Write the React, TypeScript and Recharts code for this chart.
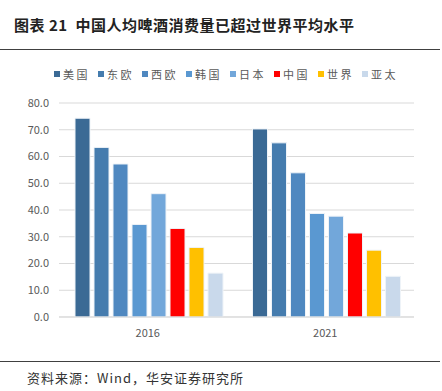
import React from "react";
import { BarChart, Bar, XAxis, YAxis, CartesianGrid } from "recharts";

const years = ["2016", "2021"];
const regions = ["美国", "东欧", "西欧", "韩国", "日本", "中国", "世界", "亚太"];
const colors = ["#3B6A95", "#457CAE", "#4F88C0", "#5A98D1", "#72A7DA", "#FF0000", "#FFC000", "#C9D9EB"];
const values2016 = [74.3, 63.4, 57.2, 34.6, 46.1, 33.1, 26.0, 16.4];
const values2021 = [70.3, 65.1, 53.9, 38.7, 37.7, 31.4, 25.0, 15.2];
const yTicks = [0, 10, 20, 30, 40, 50, 60, 70, 80];

const data = years.map((year, i) => {
  const row: Record<string, string | number> = { year };
  const vals = i === 0 ? values2016 : values2021;
  regions.forEach((r, j) => {
    row[r] = vals[j];
  });
  return row;
});

const font = '"Noto Sans CJK SC", "Noto Sans", sans-serif';

export default function App() {
  return (
    <div
      style={{
        position: "absolute",
        left: 0,
        top: 0,
        width: 442,
        height: 391,
        background: "#fff",
        fontFamily: font,
      }}
    >
      <div
        style={{
          position: "absolute",
          left: 14,
          top: 14,
          fontSize: 15,
          fontWeight: 700,
          letterSpacing: 0.5,
          color: "#222",
          whiteSpace: "nowrap",
        }}
      >
        图表 21&nbsp;&nbsp;中国人均啤酒消费量已超过世界平均水平
      </div>
      <div style={{ position: "absolute", left: 0, top: 49, width: 440, height: 1, background: "#404040" }} />

      {regions.map((r, i) => (
        <div
          key={r}
          style={{
            position: "absolute",
            left: 54 + 44 * i,
            top: 66,
            display: "flex",
            alignItems: "center",
            fontSize: 11,
            color: "#595959",
            letterSpacing: 2.5,
            whiteSpace: "nowrap",
          }}
        >
          <span style={{ display: "inline-block", width: 6, height: 6, background: colors[i], marginRight: 3 }} />
          {r}
        </div>
      ))}

      <div style={{ position: "absolute", left: 0, top: 0 }}>
        <BarChart
          width={442}
          height={391}
          data={data}
          margin={{ top: 103, right: 28, left: 9, bottom: 44 }}
          barCategoryGap={16}
          barGap={4}
        >
          <CartesianGrid vertical={false} stroke="#D9D9D9" />
          <XAxis
            dataKey="year"
            axisLine={{ stroke: "#D9D9D9" }}
            tickLine={false}
            tick={{ fontSize: 11, fill: "#595959", fontFamily: font }}
            tickMargin={6}
            height={30}
          />
          <YAxis
            width={50}
            domain={[0, 80]}
            ticks={yTicks}
            axisLine={false}
            tickLine={false}
            tickMargin={4}
            tickFormatter={(v: number) => v.toFixed(1)}
            tick={{ fontSize: 11, fill: "#595959", fontFamily: font }}
          />
          {regions.map((r, i) => (
            <Bar
              key={r}
              dataKey={r}
              fill={colors[i]}
              stroke="#EEF3F8"
              strokeWidth={1}
              isAnimationActive={false}
            />
          ))}
        </BarChart>
      </div>

      <div style={{ position: "absolute", left: 0, top: 361, width: 440, height: 1, background: "#404040" }} />
      <div
        style={{
          position: "absolute",
          left: 27,
          top: 368,
          fontSize: 13,
          letterSpacing: 1,
          color: "#333",
          whiteSpace: "nowrap",
        }}
      >
        资料来源：Wind，华安证券研究所
      </div>
    </div>
  );
}
